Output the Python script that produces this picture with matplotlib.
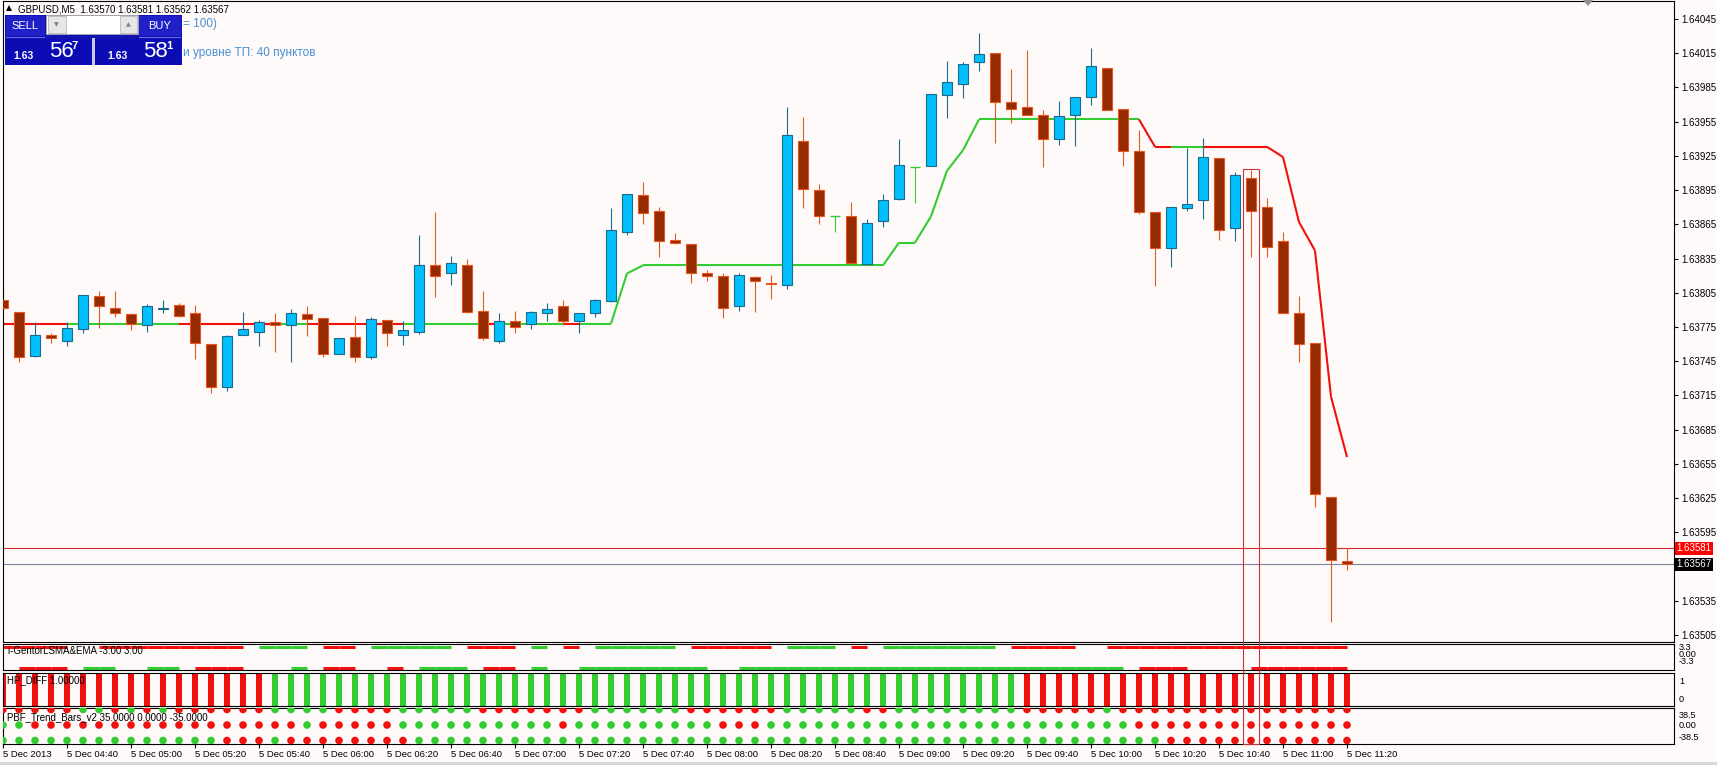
import numpy as np
import matplotlib
matplotlib.use("Agg")
import matplotlib.pyplot as plt
from matplotlib.patches import Rectangle, Polygon
from matplotlib.collections import LineCollection
import matplotlib.transforms as mtransforms

plt.rcParams['font.family'] = ['Liberation Sans', 'DejaVu Sans']

# --- data (GBPUSD M5, 5 Dec 2013 04:20 .. 11:20) ---
opens = [1.63799, 1.63788, 1.63750, 1.63768, 1.63763, 1.63773, 1.63802, 1.63792, 1.63786, 1.63777,
         1.63791, 1.63794, 1.63787, 1.63760, 1.63722, 1.63768, 1.63771, 1.63779, 1.63777, 1.63786,
         1.63783, 1.63751, 1.63766, 1.63749, 1.63781, 1.63768, 1.63771, 1.63829, 1.63822, 1.63829,
         1.63789, 1.63763, 1.63780, 1.63778, 1.63787, 1.63793, 1.63780, 1.63787, 1.63798, 1.63858,
         1.63891, 1.63877, 1.63851, 1.63848, 1.63822, 1.63820, 1.63793, 1.63819, 1.63814, 1.63812,
         1.63938, 1.63895, 1.63872, 1.63872, 1.63830, 1.63868, 1.63887, 1.63915, 1.63916, 1.63978,
         1.63988, 1.64007, 1.64015, 1.63972, 1.63968, 1.63961, 1.63940, 1.63961, 1.63977, 1.64002,
         1.63966, 1.63929, 1.63876, 1.63844, 1.63879, 1.63886, 1.63923, 1.63862, 1.63906, 1.63880,
         1.63850, 1.63787, 1.63761, 1.63626, 1.63570]
highs = [1.63810, 1.63788, 1.63779, 1.63770, 1.63779, 1.63803, 1.63807, 1.63807, 1.63787, 1.63795,
         1.63799, 1.63796, 1.63794, 1.63760, 1.63768, 1.63788, 1.63781, 1.63787, 1.63791, 1.63793,
         1.63783, 1.63765, 1.63785, 1.63784, 1.63781, 1.63780, 1.63856, 1.63876, 1.63837, 1.63835,
         1.63807, 1.63787, 1.63789, 1.63789, 1.63796, 1.63799, 1.63787, 1.63800, 1.63879, 1.63892,
         1.63902, 1.63880, 1.63857, 1.63848, 1.63825, 1.63822, 1.63822, 1.63820, 1.63821, 1.63968,
         1.63959, 1.63900, 1.63872, 1.63885, 1.63870, 1.63892, 1.63940, 1.63915, 1.63979, 1.64008,
         1.64007, 1.64033, 1.64015, 1.64001, 1.64018, 1.63965, 1.63973, 1.63977, 1.64020, 1.64002,
         1.63966, 1.63948, 1.63876, 1.63880, 1.63932, 1.63941, 1.63923, 1.63911, 1.63913, 1.63888,
         1.63858, 1.63802, 1.63761, 1.63626, 1.63581]
lows = [1.63791, 1.63744, 1.63749, 1.63761, 1.63758, 1.63770, 1.63774, 1.63784, 1.63772, 1.63771,
        1.63787, 1.63784, 1.63747, 1.63717, 1.63719, 1.63768, 1.63758, 1.63753, 1.63744, 1.63767,
        1.63749, 1.63751, 1.63744, 1.63747, 1.63758, 1.63759, 1.63769, 1.63801, 1.63812, 1.63787,
        1.63764, 1.63761, 1.63770, 1.63773, 1.63780, 1.63777, 1.63770, 1.63784, 1.63797, 1.63856,
        1.63865, 1.63836, 1.63848, 1.63814, 1.63815, 1.63783, 1.63789, 1.63788, 1.63800, 1.63808,
        1.63879, 1.63865, 1.63858, 1.63831, 1.63829, 1.63863, 1.63886, 1.63884, 1.63916, 1.63958,
        1.63976, 1.63999, 1.63936, 1.63954, 1.63961, 1.63915, 1.63935, 1.63934, 1.63970, 1.63965,
        1.63916, 1.63874, 1.63811, 1.63828, 1.63877, 1.63870, 1.63851, 1.63850, 1.63836, 1.63836,
        1.63787, 1.63744, 1.63617, 1.63516, 1.63562]
closes = [1.63792, 1.63749, 1.63768, 1.63765, 1.63774, 1.63803, 1.63793, 1.63787, 1.63778, 1.63793,
          1.63792, 1.63785, 1.63761, 1.63722, 1.63767, 1.63773, 1.63779, 1.63777, 1.63787, 1.63782,
          1.63751, 1.63765, 1.63749, 1.63782, 1.63770, 1.63772, 1.63829, 1.63820, 1.63831, 1.63788,
          1.63765, 1.63780, 1.63775, 1.63788, 1.63791, 1.63780, 1.63787, 1.63799, 1.63860, 1.63892,
          1.63875, 1.63850, 1.63849, 1.63822, 1.63820, 1.63792, 1.63821, 1.63815, 1.63813, 1.63943,
          1.63896, 1.63872, 1.63872, 1.63831, 1.63866, 1.63886, 1.63917, 1.63915, 1.63979, 1.63990,
          1.64006, 1.64014, 1.63972, 1.63966, 1.63961, 1.63940, 1.63960, 1.63977, 1.64004, 1.63965,
          1.63929, 1.63876, 1.63844, 1.63880, 1.63883, 1.63924, 1.63860, 1.63908, 1.63877, 1.63845,
          1.63787, 1.63760, 1.63629, 1.63571, 1.63567]

# trailing stop line and its colour per bar (r/g)
trail = [1.63778] * 39 + [1.63822] + [1.63829] * 16 + [1.63849] * 2 + [1.63872, 1.63912, 1.63930] \
        + [1.63957] * 11 + [1.63933] * 8 + [1.63924, 1.63867, 1.63842, 1.63714, 1.63661]
trail_col = "rrrrr" "ggggggg" "rrrrrr" "gg" "rrrrrr" "ggggg" "r" "gggg" "r" + "g" * 35 + "rr" "gg" + "r" * 9

ask, bid = 1.63581, 1.63567

# i-GentorLSMA&EMA rows (+3 / -3)
gentor_top = "rrrrr" "g" + "r" * 10 + "gggg" "rrr" "gggggg" "rrrr" "gg" "rr" "gggggg" "rrrrrr" "gggg" "rr" \
             + "g" * 8 + "rrrrr" "g" + "r" * 16
gentor_bot = "g" "rrrr" "ggg" "r" "ggg" "rrrr" "g" "r" "gg" "rrr" "g" "rr" "gggg" "rrr" "gg" "r" + "g" * 9 \
             + "r" + "g" * 25 + "rrrr" "g" "r" "g" + "r" * 7

# HP_DIFF histogram
hp_col = "r" * 17 + "g" * 47 + "r" * 21

# PBF_Trend_Bars_v2 dots, rows at 35 / 0 / -35
pbf_top = "rrrrr" "gg" "r" "g" "r" "g" "r" "rrrrr" "gggg" "rrrr" "ggggg" "r" + "r" * 6 + "g" * 6 + "r" * 6 \
          + "g" * 5 + "rr" + "g" * 8 + "r" * 5 + "g" + "r" * 15
pbf_mid = "gg" + "r" * 17 + "g" + "r" * 5 + "g" * 10 + "r" + "g" * 9 + "rrr" + "g" * 23 + "r" * 14
pbf_bot = "g" * 14 + "rrr" + "g" + "r" * 8 + "g" * 47 + "r" * 12

times = ["5 Dec 2013", "5 Dec 04:40", "5 Dec 05:00", "5 Dec 05:20", "5 Dec 05:40", "5 Dec 06:00",
         "5 Dec 06:20", "5 Dec 06:40", "5 Dec 07:00", "5 Dec 07:20", "5 Dec 07:40", "5 Dec 08:00",
         "5 Dec 08:20", "5 Dec 08:40", "5 Dec 09:00", "5 Dec 09:20", "5 Dec 09:40", "5 Dec 10:00",
         "5 Dec 10:20", "5 Dec 10:40", "5 Dec 11:00", "5 Dec 11:20"]

for s in (trail_col, gentor_top, gentor_bot, hp_col, pbf_top, pbf_mid, pbf_bot):
    assert len(s) == len(opens), len(s)

# --- styling ---
W, H = 1717, 765
BG = '#FFFAFA'
RED, GREEN = '#F01010', '#33CC33'
col = {'r': RED, 'g': GREEN}

fig = plt.figure(figsize=(W / 100, H / 100), dpi=100, facecolor=BG)


def fx(x):
    return x / W


def fy(y):
    return 1 - y / H


def frect(x0, y0, x1, y1, **kw):
    fig.add_artist(Rectangle((fx(x0), fy(y1)), (x1 - x0) / W, (y1 - y0) / H,
                             transform=fig.transFigure, **kw))


def ftext(x, y, s, **kw):
    kw.setdefault('fontsize', 7)
    kw.setdefault('va', 'center')
    fig.text(fx(x), fy(y), s, **kw)


def panel(y0, y1):
    a = fig.add_axes([fx(3), fy(y1), (1674 - 3) / W, (y1 - y0) / H])
    a.set_facecolor(BG)
    for sp in a.spines.values():
        sp.set_linewidth(0.8)
        sp.set_color('black')
    a.set_xlim(0, (1674 - 3) / 16)
    a.set_xticks([])
    a.set_yticks([])
    return a


o, h, l, c = map(np.array, (opens, highs, lows, closes))
x = np.arange(len(o))

# main price panel
ax = panel(1, 642)
ax.set_ylim(1.634989, 1.640608)
bull, bear, doji = c > o, c < o, c == o
wick = np.where(bull, '#1C6A8A', np.where(bear, '#E0581E', GREEN))
ax.vlines(x, l, h, colors=wick, lw=0.8, zorder=2)
nd = ~doji
ax.bar(x[nd], np.maximum(np.abs(c - o), 0.000009)[nd], bottom=np.minimum(o, c)[nd], width=0.62,
       color=np.where(bull, '#00BFFF', '#962A00')[nd], edgecolor=np.where(bull, '#1C6A8A', '#E8561E')[nd],
       lw=0.8, zorder=3)
ax.hlines(c[doji], x[doji] - 0.31, x[doji] + 0.31, colors=GREEN, lw=1.0, zorder=3)

segs = [[(i - 1, trail[i - 1]), (i, trail[i])] for i in range(1, len(trail))]
ax.add_collection(LineCollection(segs, colors=[col[k] for k in trail_col[1:]], lw=1.5, zorder=1))

ax.axhline(ask, color='#D02828', lw=0.8, zorder=1)
ax.axhline(bid, color='#7A8698', lw=0.8, zorder=1)

ax.yaxis.tick_right()
ax.set_yticks(np.round(np.arange(1.63505, 1.64046, 0.0003), 5))


def price_fmt(v, pos):
    # the bid label covers the level next to it
    return '' if abs(v - bid) < 0.00008 else f'{v:.5f}'


ax.yaxis.set_major_formatter(matplotlib.ticker.FuncFormatter(price_fmt))
ax.tick_params(axis='y', direction='out', length=3, width=0.8, pad=2, labelsize=7)

tr = mtransforms.blended_transform_factory(ax.transAxes, ax.transData)
for val, fc in ((ask, '#FF0000'), (bid, '#000000')):
    ax.text(1.0014, val, f'{val:.5f}', transform=tr, color='white', fontsize=7, va='center', ha='left',
            clip_on=False, bbox=dict(boxstyle='square,pad=0.18', fc=fc, ec='none'))

# i-GentorLSMA&EMA
p1 = panel(644, 670)
p1.set_ylim(-3.57, 3.86)
for states, lev in ((gentor_top, 3.0), (gentor_bot, -3.0)):
    s1, cl = [], []
    for i in range(1, len(states)):
        if states[i] == states[i - 1]:
            s1.append([(i - 1, lev), (i, lev)])
            cl.append(col[states[i]])
    p1.add_collection(LineCollection(s1, colors=cl, lw=2.2, capstyle='butt'))

# HP_DIFF
p2 = panel(673, 706)
p2.set_ylim(0, 1)
p2.bar(x, np.ones(len(x)), width=0.38, color=[col[k] for k in hp_col])

# PBF_Trend_Bars_v2
p3 = panel(708, 744)
p3.set_ylim(-42.9, 38.4)
for states, lev in ((pbf_top, 35), (pbf_mid, 0), (pbf_bot, -35)):
    p3.scatter(x, np.full(len(x), lev), s=30, c=[col[k] for k in states], linewidths=0, zorder=3)
p3.set_xticks(np.arange(0, len(x), 4))
p3.set_xticklabels(times, ha='left')
p3.tick_params(axis='x', direction='out', length=3, width=0.8, pad=1.5, labelsize=6.8)

# selection box over bar 78 spanning the panels
bt = mtransforms.blended_transform_factory(ax.transData, fig.transFigure)
fig.add_artist(Rectangle((78 - 0.47, fy(744)), 0.94, (744 - 169) / H, transform=bt, fill=False,
                         ec='#C83232', lw=0.8, zorder=10))

# indicator captions and scales
ftext(8, 651, 'i-GentorLSMA&EMA -3.00 3.00')
ftext(7, 680, 'HP_DIFF 1.00000')
ftext(7, 717, 'PBF_Trend_Bars_v2 35.0000 0.0000 -35.0000')
for yy, s in ((647.5, '3.3'), (654.5, '0.00'), (661.5, '-3.3'), (681, '1'), (700, '0'),
              (715, '38.5'), (725.5, '0.00'), (738, '-38.5')):
    ftext(1679, yy, s, fontsize=6.6)

# header
fig.add_artist(Polygon([(fx(6), fy(11)), (fx(12), fy(11)), (fx(9), fy(5))], closed=True,
                       transform=fig.transFigure, fc='black', ec='none'))
ftext(18, 9, f'GBPUSD,M5  {o[-1]:.5f} {h[-1]:.5f} {l[-1]:.5f} {c[-1]:.5f}', fontsize=7)
fig.add_artist(Polygon([(fx(1583), fy(0)), (fx(1593), fy(0)), (fx(1588), fy(6))], closed=True,
                       transform=fig.transFigure, fc='#909090', ec='none'))

# one-click trading panel
frect(5, 15, 182, 65, fc='#1212B0', ec='none')
frect(6, 16, 45, 36, fc='#2020C8', ec='none')
frect(139, 16, 181, 36, fc='#2020C8', ec='none')
frect(6, 36.5, 45, 37.5, fc='#6868E8', ec='none')
frect(139, 36.5, 181, 37.5, fc='#6868E8', ec='none')
frect(46, 15, 138, 34, fc='white', ec='#A8A8A8', lw=0.6)
frect(47.5, 16.5, 66, 33, fc='#E6E6E6', ec='#B8B8B8', lw=0.6)
frect(120, 16.5, 137, 33, fc='#E6E6E6', ec='#B8B8B8', lw=0.6)
ftext(56.5, 24.5, '▼', fontsize=4.5, ha='center', color='#808080', family='DejaVu Sans')
ftext(128.5, 24.5, '▲', fontsize=4.5, ha='center', color='#808080', family='DejaVu Sans')
frect(6, 39, 92, 65, fc='#0C0CB4', ec='none')
frect(95, 39, 181, 65, fc='#0C0CB4', ec='none')
frect(92, 38, 95, 65, fc='#C8C8E8', ec='none')
ftext(25, 26, 'SELL', fontsize=8, ha='center', color='white')
ftext(160, 26, 'BUY', fontsize=8, ha='center', color='white')
ftext(13, 56, '1.63', fontsize=7.5, color='white', weight='bold')
ftext(49, 51.5, '56', fontsize=16, color='white')
ftext(71, 46, '7', fontsize=8, color='white', weight='bold')
ftext(107, 56, '1.63', fontsize=7.5, color='white', weight='bold')
ftext(143, 51.5, '58', fontsize=16, color='white')
ftext(166, 46, '1', fontsize=8, color='white', weight='bold')
ftext(183, 24, '= 100)', fontsize=8.5, color='#4A90D0')
ftext(183, 53, 'и уровне ТП: 40 пунктов', fontsize=8.5, color='#4A90D0')

frect(0, 762, 1717, 765, fc='#D8D8D8', ec='none')

fig.savefig('out.png', dpi=100, facecolor=BG)
